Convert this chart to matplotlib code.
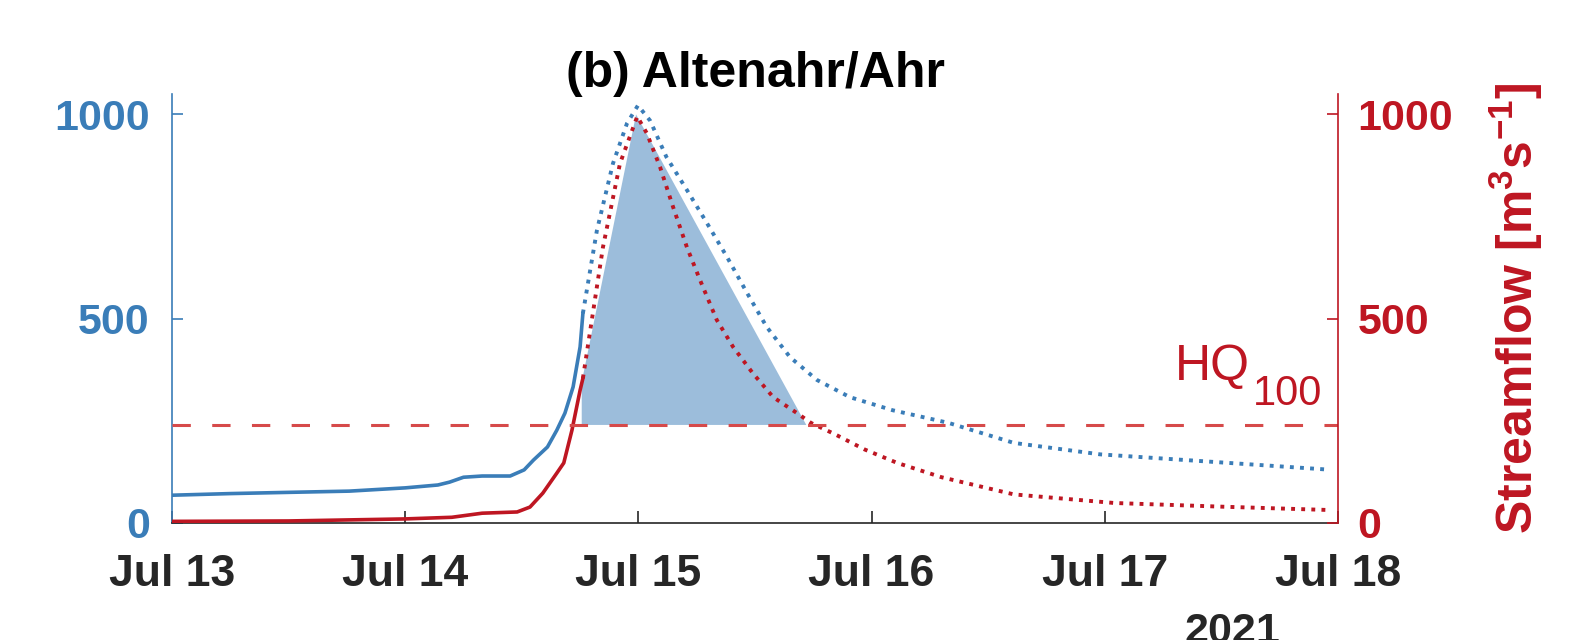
import numpy as np
import pandas as pd
import matplotlib
matplotlib.use('Agg')
from matplotlib import pyplot as plt
import matplotlib.dates as mdates

plt.rcParams['font.family'] = ['Liberation Sans', 'DejaVu Sans']
plt.rcParams['mathtext.fontset'] = 'custom'
plt.rcParams['mathtext.rm'] = 'Liberation Sans'
plt.rcParams['mathtext.bf'] = 'Liberation Sans:bold'

# time in days after 2021-07-13 00:00
obs_t = [0.0, 0.25, 0.5, 0.76, 1.0, 1.14, 1.19, 1.25, 1.33, 1.45, 1.51, 1.55, 1.61, 1.65, 1.685, 1.72, 1.75, 1.762]
obs_q = [68, 72, 75, 78, 86, 93, 100, 112, 115, 115, 130, 154, 186, 227, 269, 333, 431, 513]
fc_t = [1.762, 1.822, 1.891, 1.951, 1.998, 2.05, 2.12, 2.208, 2.294, 2.38, 2.466, 2.55, 2.65,
        2.766, 2.907, 3.09, 3.33, 3.61, 3.98, 4.48, 4.95]
fc_q = [513, 716, 880, 978, 1022, 985, 896, 815, 734, 651, 563, 480, 406,
        350, 308, 276, 245, 196, 168, 149, 131]

red_t = [0.0, 0.5, 1.0, 1.2, 1.33, 1.48, 1.535, 1.59, 1.65, 1.68, 1.715, 1.75, 1.762]
red_q = [4, 5, 10, 14, 24, 27, 39, 73, 122, 147, 227, 325, 354]
redfc_t = [1.762, 1.848, 1.921, 1.995, 2.036, 2.093, 2.149, 2.208, 2.264, 2.336, 2.406, 2.49,
           2.578, 2.68, 2.74, 2.84, 2.97, 3.11, 3.3, 3.61, 4.04, 4.5, 4.95]
redfc_q = [354, 675, 880, 995, 954, 871, 773, 675, 595, 497, 431, 367,
           308, 269, 245, 218, 180, 147, 112, 70, 49, 40, 32]

hq100 = 240
area_t = [1.757, 1.757, 1.99, 2.72]
area_q = [240, 345, 1000, 240]

start = pd.Timestamp('2021-07-13')
def to_dates(days):
    return start + pd.to_timedelta(np.array(days), unit='D')

blue = '#3A7DB8'
red = '#BE1622'
grey = '#262626'
dots = (0, (1, 1.6))

fig = plt.figure(figsize=(15.9, 6.4), dpi=100)
ax = fig.add_axes([172/1590, 1-523/640, 1166/1590, 429/640])
ax2 = ax.twinx()

ax.plot(to_dates(obs_t), obs_q, color=blue, lw=2.6)
ax.plot(to_dates(fc_t), fc_q, color=blue, lw=2.8, ls=dots)

ax2.plot(to_dates(red_t), red_q, color=red, lw=2.6)
ax2.plot(to_dates(redfc_t), redfc_q, color=red, lw=2.8, ls=dots)
ax2.plot(to_dates([0, 5]), [hq100, hq100], color='#D64A4A', lw=2.2, ls=(0, (6, 7)))
ax2.fill(to_dates(area_t), area_q, color=blue, alpha=0.5, lw=0)

ax2.text(to_dates([4.30])[0], 350, 'HQ', color=red, fontsize=36, va='baseline', ha='left')
ax2.text(to_dates([4.635])[0], 289, '100', color=red, fontsize=30, va='baseline', ha='left')

for a in (ax, ax2):
    a.set_ylim(0, 1050)
    a.set_yticks([0, 500, 1000])
    a.set_xlim(to_dates([0])[0], to_dates([5])[0])
    a.spines['top'].set_visible(False)

ax.xaxis.set_major_locator(mdates.DayLocator())
ax.xaxis.set_major_formatter(mdates.DateFormatter('%b %d'))
ax.tick_params(axis='x', direction='in', length=9, width=1.2, color=grey, labelcolor=grey, labelsize=32, pad=22)
ax.tick_params(axis='y', direction='in', length=8, width=1.2, color=blue, labelcolor=blue, labelsize=31, pad=16)
ax2.tick_params(axis='y', direction='in', length=8, width=1.2, color=red, labelcolor=red, labelsize=31, pad=14)
for lbl in ax.get_xticklabels() + ax.get_yticklabels() + ax2.get_yticklabels():
    lbl.set_fontweight('bold')

ax.spines['left'].set_color(blue)
ax.spines['right'].set_visible(False)
ax.spines['bottom'].set_color(grey)
ax2.spines['left'].set_visible(False)
ax2.spines['bottom'].set_visible(False)
ax2.spines['right'].set_color(red)
for s in ('left', 'bottom'):
    ax.spines[s].set_linewidth(1.2)
ax2.spines['right'].set_linewidth(1.2)

ax2.set_ylabel(r'Streamflow [m$^\mathbf{3}$s$^\mathbf{-1}$]', color=red, fontsize=36, fontweight='bold')
ax2.yaxis.set_label_coords(1.128, 0.5)

fig.text(755/1590, 1-74/640, '(b) Altenahr/Ahr', fontsize=36, fontweight='bold', ha='center', va='center')
fig.text(1232/1590, 1-612/640, '2021', fontsize=31, fontweight='bold', color=grey, ha='center', va='top')

fig.savefig('out.png', dpi=100)
